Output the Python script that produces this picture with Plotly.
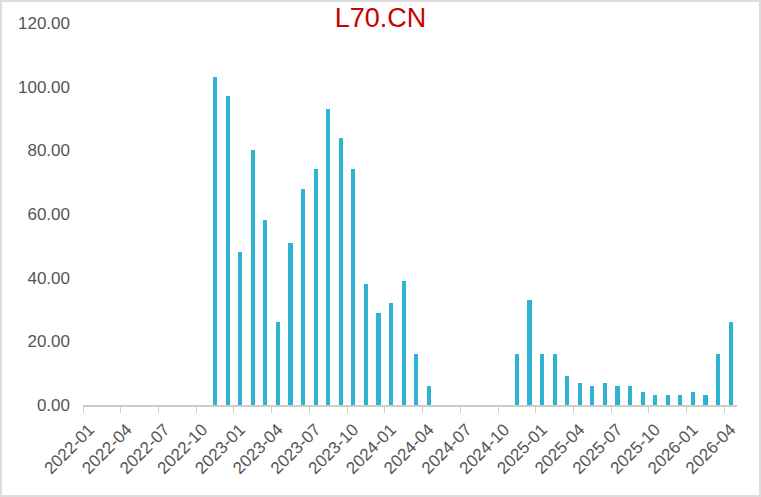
import plotly.graph_objects as go

months = [f"{y}-{m:02d}" for y in range(2022, 2027) for m in range(1, 13)]
months = months[:52]  # 2022-01 .. 2026-04

# values by month (None = no bar)
group1_start = "2022-11"
group1_vals = [103, 97, 48, 80, 58, 26, 51, 68, 74, 93, 84, 74, 38, 29, 32, 39, 16, 6]
group2_start = "2024-11"
group2_vals = [16, 33, 16, 16, 9, 7, 6, 7, 6, 6, 4, 3, 3, 3, 4, 3, 16, 26]

values = [None] * len(months)
i1 = months.index(group1_start)
for k, v in enumerate(group1_vals):
    values[i1 + k] = v
i2 = months.index(group2_start)
for k, v in enumerate(group2_vals):
    values[i2 + k] = v

y_ticks = [0, 20, 40, 60, 80, 100, 120]

fig = go.Figure()
fig.add_trace(go.Bar(
    x=months, y=values,
    marker=dict(color="#2EB3D3", line=dict(width=0)),
    width=0.33,
))

L, R, T, B = 83, 24, 23, 92
W, H = 761, 497
pw = W - L - R
ph = H - T - B

fig.update_layout(
    width=W, height=H,
    margin=dict(l=L, r=R, t=T, b=B),
    paper_bgcolor="white", plot_bgcolor="white",
    font=dict(family="Liberation Sans, Arial, sans-serif", size=17, color="#555555"),
    showlegend=False,
    title=dict(text="L70.CN", x=0.5, xanchor="center", y=1 - 18 / H, yanchor="middle",
               font=dict(size=27, color="#CC0000", family="Liberation Sans, Arial, sans-serif")),
    xaxis=dict(
        type="category", categoryorder="array", categoryarray=months,
        range=[-0.5, len(months) - 0.5],
        showline=True, linecolor="#CCCCCC", linewidth=2,
        ticks="outside", ticklen=6, tickcolor="#CCCCCC", tickwidth=1,
        tickson="boundaries", tickmode="linear", tick0=0, dtick=3,
        tickangle=-45, showgrid=False, zeroline=False,
        ticklabelstandoff=6,
        tickfont=dict(size=17, color="#555555"),
    ),
    yaxis=dict(
        range=[0, 120], tickvals=y_ticks, ticktext=[f"{v:.2f}" for v in y_ticks],
        showline=False, showgrid=False, zeroline=False, ticks="",
        ticklabelstandoff=12,
        tickfont=dict(size=17, color="#555555"),
    ),
    bargap=0,
)

# light grey frame around the whole image
fig.add_shape(type="rect", xref="paper", yref="paper",
              x0=-(L - 1) / pw, x1=1 + (R - 1) / pw,
              y0=-(B - 1) / ph, y1=1 + (T - 1) / ph,
              line=dict(color="#DDDDDD", width=2), layer="below")

fig.write_html("out.html")
